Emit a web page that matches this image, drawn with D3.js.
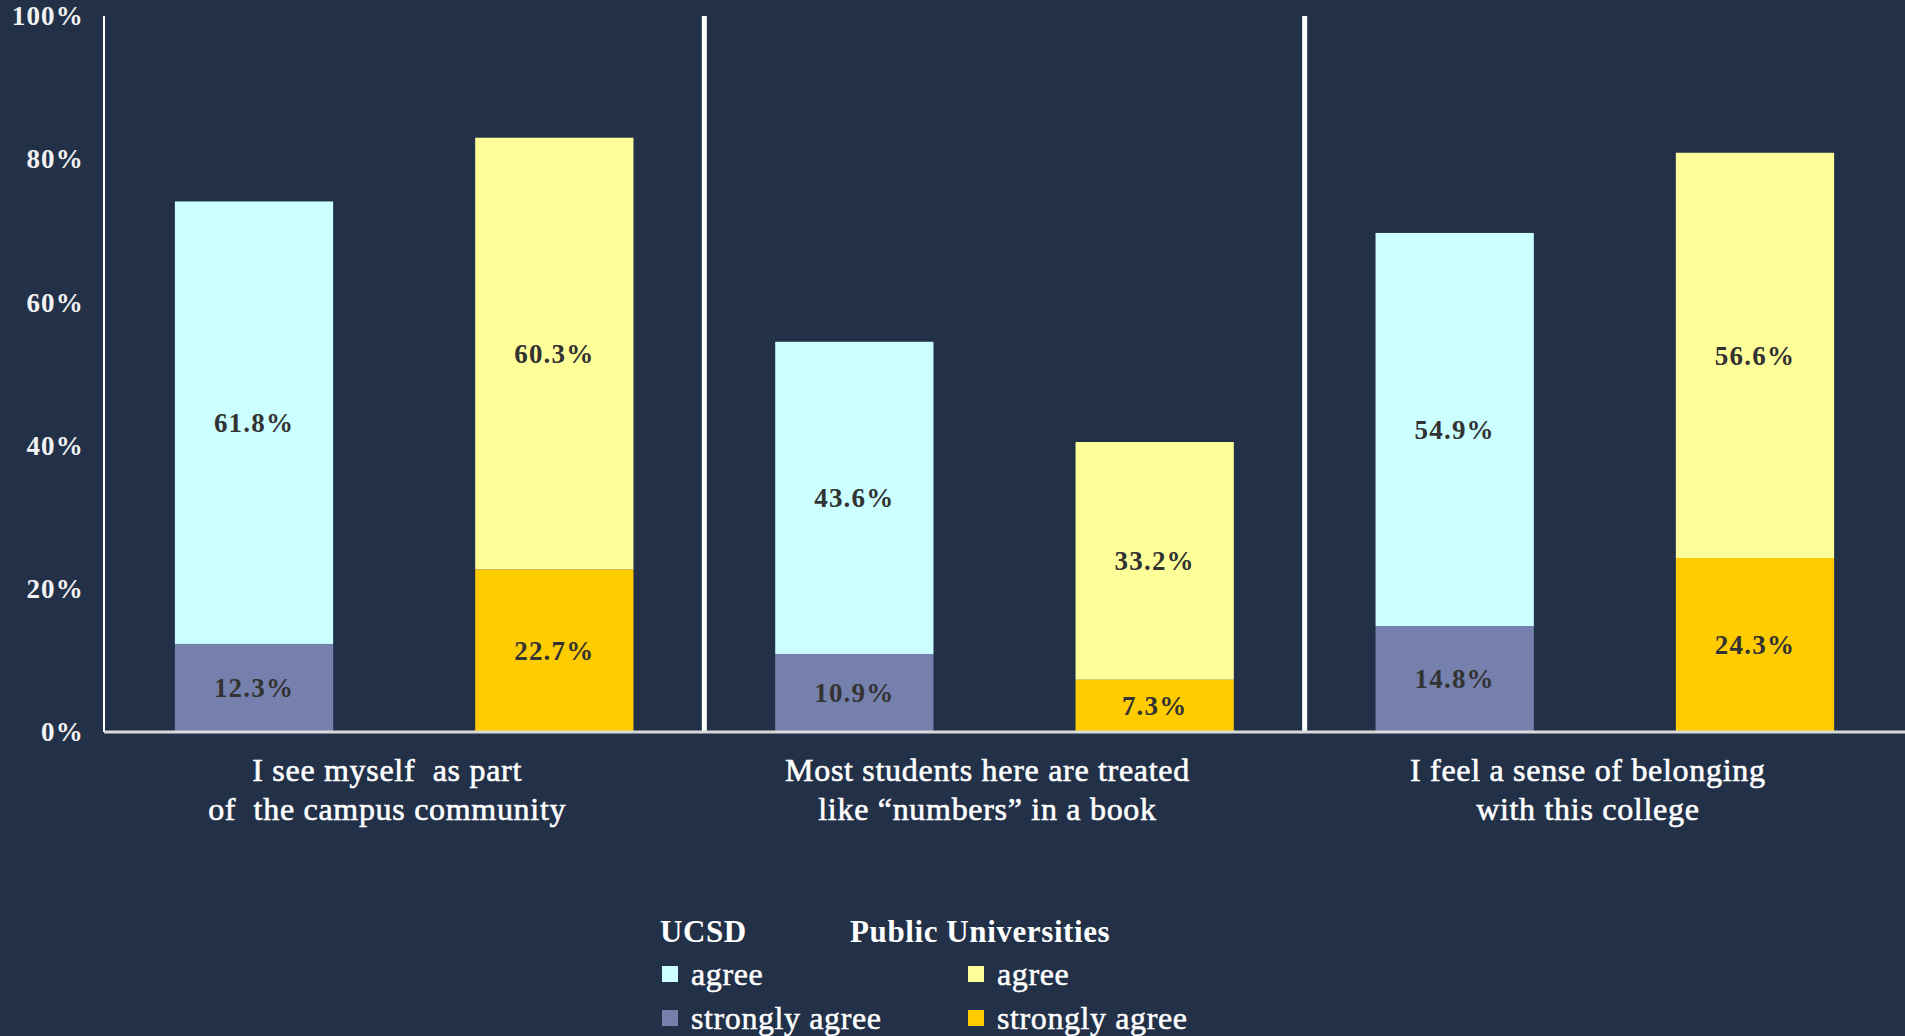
<!DOCTYPE html>
<html>
<head>
<meta charset="utf-8">
<script src="https://cdn.jsdelivr.net/npm/d3@7"></script>
<style>
  body { margin: 0; background: #223148; }
  svg text { font-family: "Liberation Serif", "Times New Roman", serif; white-space: pre; }
</style>
</head>
<body>
<div id="chart"></div>
<script>
// survey items (x categories)
var categories = ["I see myself  as part\nof  the campus community",
                  "Most students here are treated\nlike \u201cnumbers\u201d in a book",
                  "I feel a sense of belonging\nwith this college"];
var groups = ["UCSD", "Public Universities"];
var segments = ["strongly agree", "agree"];

// values in percent
var ucsdStrongly = [12.3, 10.9, 14.8];
var ucsdAgree = [61.8, 43.6, 54.9];
var pubStrongly = [22.7, 7.3, 24.3];
var pubAgree = [60.3, 33.2, 56.6];

var yTicks = [0, 20, 40, 60, 80, 100];

var colors = {
    "UCSD": { "strongly agree": "#7580ac", "agree": "#ccffff" },
    "Public Universities": { "strongly agree": "#ffcc00", "agree": "#ffff99" }
};

var svgWidth = 1905;
var svgHeight = 1036;
var margin = { top: 16, right: 0, bottom: 304, left: 104 };
var width = svgWidth - margin.left - margin.right;
var height = svgHeight - margin.top - margin.bottom;

var svg = d3.select("#chart")
    .append("svg")
    .attr("width", svgWidth)
    .attr("height", svgHeight)
    .style("display", "block");

svg.append("rect").attr("width", svgWidth).attr("height", svgHeight).attr("fill", "#223148");

var chart = svg.append("g")
    .attr("transform", "translate(" + margin.left + "," + margin.top + ")");

// build rows for the stacks
var rows = [];
categories.forEach(function(c, i) {
    rows.push({ cat: c, group: "UCSD", "strongly agree": ucsdStrongly[i], "agree": ucsdAgree[i] });
    rows.push({ cat: c, group: "Public Universities", "strongly agree": pubStrongly[i], "agree": pubAgree[i] });
});

var x0 = d3.scaleBand().domain(categories).range([0, width]);
var x1 = d3.scaleBand().domain(groups).range([0, x0.bandwidth()])
    .paddingInner(0.473).paddingOuter(0.236);
var y = d3.scaleLinear().domain([0, 100]).range([height, 0]);

var stack = d3.stack().keys(segments);
var series = stack(rows);

var layer = chart.selectAll(".layer")
    .data(series)
    .enter().append("g")
    .attr("class", "layer");

layer.selectAll("rect")
    .data(function(s) { return s.map(function(d) { d.key = s.key; return d; }); })
    .enter().append("rect")
    .attr("x", function(d) { return x0(d.data.cat) + x1(d.data.group); })
    .attr("width", x1.bandwidth())
    .attr("y", function(d) { return y(d[1]); })
    .attr("height", function(d) { return y(d[0]) - y(d[1]); })
    .attr("fill", function(d) { return colors[d.data.group][d.key]; });

layer.selectAll("text")
    .data(function(s) { return s; })
    .enter().append("text")
    .attr("x", function(d) { return x0(d.data.cat) + x1(d.data.group) + x1.bandwidth() / 2; })
    .attr("y", function(d) { return (y(d[0]) + y(d[1])) / 2; })
    .attr("dy", "0.35em")
    .attr("text-anchor", "middle")
    .attr("font-size", 27)
    .attr("font-weight", "bold")
    .attr("letter-spacing", 1.2)
    .attr("fill", "#333333")
    .text(function(d) { return (d[1] - d[0]).toFixed(1) + "%"; });

// separators between the items
chart.selectAll(".sep")
    .data(categories.slice(1))
    .enter().append("line")
    .attr("x1", function(d) { return x0(d); })
    .attr("x2", function(d) { return x0(d); })
    .attr("y1", 0)
    .attr("y2", height)
    .attr("stroke", "#ffffff")
    .attr("stroke-width", 5);

// y axis
var leftAxis = d3.axisLeft(y).tickValues(yTicks).tickSize(0).tickPadding(20)
    .tickFormat(function(d) { return d + "%"; });
var yAxis = chart.append("g").call(leftAxis);
yAxis.select(".domain").attr("stroke", "#ffffff").attr("stroke-width", 2).attr("d", "M0," + height + "V0");
yAxis.selectAll("text")
    .attr("font-size", 27)
    .attr("font-weight", "bold")
    .attr("letter-spacing", 1.2)
    .attr("fill", "#f2f2f2")
    .attr("font-family", "Liberation Serif, serif");

// baseline
chart.append("line")
    .attr("x1", 0).attr("x2", width)
    .attr("y1", height).attr("y2", height)
    .attr("stroke", "#d9d9d9")
    .attr("stroke-width", 3);

// category labels
var catLabel = chart.selectAll(".cat")
    .data(categories)
    .enter().append("text")
    .attr("class", "cat")
    .attr("text-anchor", "middle")
    .attr("font-size", 32)
    .attr("letter-spacing", 0.7)
    .attr("fill", "#ffffff")
    .attr("stroke", "#ffffff")
    .attr("stroke-width", 0.6)
    .attr("transform", function(d) { return "translate(" + (x0(d) + x0.bandwidth() / 2 - 17) + "," + (height + 49) + ")"; });

catLabel.selectAll("tspan")
    .data(function(d) { return d.split("\n"); })
    .enter().append("tspan")
    .attr("x", 0)
    .attr("dy", function(d, i) { return i === 0 ? 0 : 39; })
    .text(function(d) { return d; });

// legend
var legend = svg.append("g").attr("transform", "translate(660,0)");
var legendX = { "UCSD": 0, "Public Universities": 306 };
var legendY = { "agree": 974, "strongly agree": 1018 };

legend.selectAll(".lhead")
    .data(groups)
    .enter().append("text")
    .attr("x", function(d) { return d === "UCSD" ? 0 : 190; })
    .attr("y", 931)
    .attr("dy", "0.35em")
    .attr("font-size", 31)
    .attr("font-weight", "bold")
    .attr("letter-spacing", 0.6)
    .attr("fill", "#ffffff")
    .text(function(d) { return d; });

var items = [];
groups.forEach(function(g) {
    segments.forEach(function(s) { items.push({ group: g, seg: s }); });
});

legend.selectAll(".lsw")
    .data(items)
    .enter().append("rect")
    .attr("x", function(d) { return legendX[d.group] + 2; })
    .attr("y", function(d) { return legendY[d.seg] - 8; })
    .attr("width", 16)
    .attr("height", 16)
    .attr("fill", function(d) { return colors[d.group][d.seg]; });

legend.selectAll(".ltx")
    .data(items)
    .enter().append("text")
    .attr("x", function(d) { return legendX[d.group] + 31; })
    .attr("y", function(d) { return legendY[d.seg]; })
    .attr("dy", "0.35em")
    .attr("font-size", 32)
    .attr("letter-spacing", 0.6)
    .attr("fill", "#ffffff")
    .attr("stroke", "#ffffff")
    .attr("stroke-width", 0.5)
    .text(function(d) { return d.seg; });
</script>
</body>
</html>
